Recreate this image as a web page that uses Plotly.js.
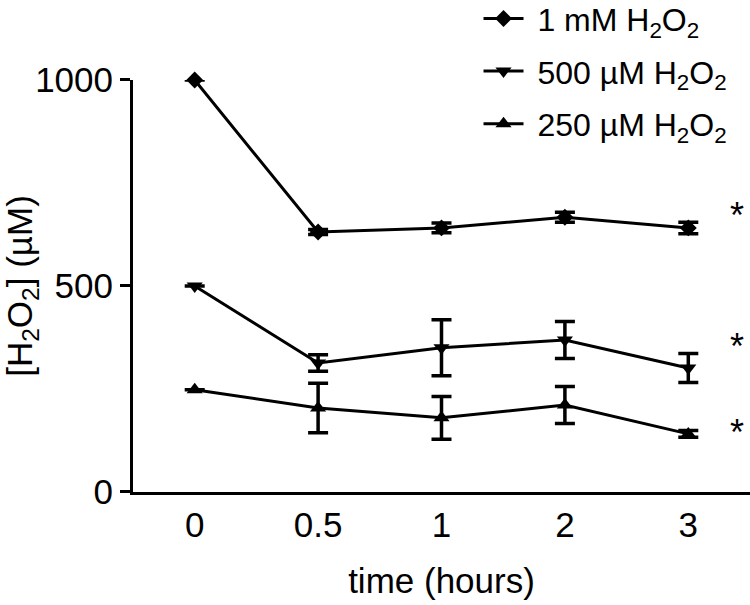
<!DOCTYPE html>
<html>
<head>
<meta charset="utf-8">
<script src="https://cdn.plot.ly/plotly-3.0.1.min.js"></script>
<style>html,body{margin:0;padding:0;background:#fff;}#chart{width:750px;height:605px;}</style>
</head>
<body>
<div id="chart"></div>
<script>
var timeLabels = ["0", "0.5", "1", "2", "3"];
var names = ["\u00a01 mM H<sub>2</sub>O<sub>2</sub>", "\u00a0500 µM H<sub>2</sub>O<sub>2</sub>", "\u00a0250 µM H<sub>2</sub>O<sub>2</sub>"];
var mean1mM = [1000, 631, 641, 667, 641];
var err1mM = [0, 6, 12, 12, 14];
var mean500 = [500, 313, 350, 369, 301];
var err500 = [0, 20, 68, 45, 35];
var mean250 = [248, 204, 180, 211, 141];
var err250 = [0, 60, 52, 45, 8];
var symbols = ["diamond", "triangle-down", "triangle-up"];
var asteriskY = [672, 352, 144];

var means = [mean1mM, mean500, mean250];
var errs = [err1mM, err500, err250];
var traces = means.map(function (m, i) {
  return {
    x: timeLabels, y: m, name: names[i], type: "scatter", mode: "lines+markers",
    legendgroup: "g" + i,
    line: {color: "#000", width: 3},
    marker: {symbol: symbols[i], size: i === 0 ? 13 : 14, color: "#000"},
    error_y: {type: "data", array: errs[i], visible: true, color: "#000", thickness: 3.5, width: 10},
    cliponaxis: false
  };
});

var annotations = asteriskY.map(function (v) {
  return {xref: "paper", yref: "y", x: 0.993, y: v, text: "*", showarrow: false,
    font: {family: "Liberation Sans, Arial, sans-serif", size: 36, color: "#000"}};
});

var layout = {
  width: 750, height: 605,
  margin: {l: 133, r: 0, t: 0, b: 113, autoexpand: false},
  paper_bgcolor: "#fff", plot_bgcolor: "#fff",
  font: {family: "Liberation Sans, Arial, sans-serif", color: "#000", size: 35},
  showlegend: true,
  legend: {x: 0.56, y: 1.018, xanchor: "left", yanchor: "top",
    bgcolor: "rgba(0,0,0,0)", font: {size: 32}, traceorder: "grouped", tracegroupgap: 8, itemwidth: 40},
  xaxis: {type: "category", range: [-0.5, 4.5], showgrid: false, zeroline: false,
    showline: true, linecolor: "#000", linewidth: 3, ticks: "",
    tickfont: {size: 35}, title: {text: "time (hours)", font: {size: 35}, standoff: 26}},
  yaxis: {range: [0, 1000], domain: [0, 0.8374], tickvals: [0, 500, 1000], showgrid: false, zeroline: false,
    showline: true, linecolor: "#000", linewidth: 3, ticks: "outside", ticklen: 10, tickwidth: 3,
    tickcolor: "#000", tickfont: {size: 35},
    title: {text: "[H<sub>2</sub>O<sub>2</sub>] (µM)", font: {size: 35}, standoff: 0}},
  annotations: annotations
};

Plotly.newPlot("chart", traces, layout, {displayModeBar: false, staticPlot: true});
</script>
</body>
</html>
